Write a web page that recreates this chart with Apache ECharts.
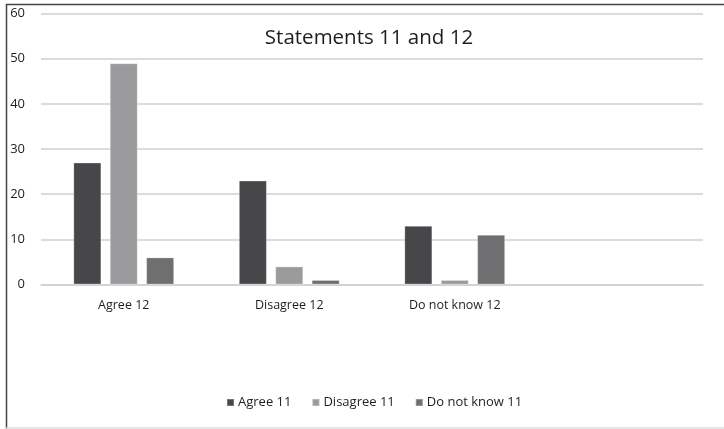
<!DOCTYPE html>
<html>
<head>
<meta charset="utf-8">
<script src="https://cdn.jsdelivr.net/npm/echarts@6/dist/echarts.min.js"></script>
<style>
  html, body { margin: 0; padding: 0; background: #fff; }
  #chart { width: 724px; height: 429px; }
</style>
</head>
<body>
<div id="chart"></div>
<script>
// Response categories (statement 12) and the statement 11 breakdown
const categories = ['Agree 12', 'Disagree 12', 'Do not know 12', ''];
const agree11 = [27, 23, 13, null];
const disagree11 = [49, 4, 1, null];
const dontKnow11 = [6, 1, 11, null];
const yTicks = { min: 0, max: 60, interval: 10 };

const FONT = '"Open Sans", "Noto Sans", sans-serif';

const chart = echarts.init(document.getElementById('chart'), null, { renderer: 'canvas' });

function barSeries(name, data, color) {
  return {
    name: name,
    type: 'bar',
    data: data,
    barWidth: 28,
    barGap: '30%',
    itemStyle: { color: color, borderColor: 'rgba(255,255,255,0.25)', borderWidth: 1 }
  };
}

chart.setOption({
  animation: false,
  backgroundColor: '#fff',
  title: {
    text: 'Statements 11 and 12',
    left: 364,
    top: 23,
    textAlign: 'center',
    textStyle: { fontFamily: FONT, fontSize: 20.5, fontWeight: 'normal', color: '#1e1e1e' }
  },
  legend: {
    bottom: 15,
    left: 221,
    itemWidth: 7,
    itemHeight: 7,
    itemGap: 20,
    icon: 'rect',
    textStyle: { fontFamily: FONT, fontSize: 13, color: '#1e1e1e', padding: [0, 0, 0, -1] },
    data: ['Agree 11', 'Disagree 11', 'Do not know 11']
  },
  grid: { left: 41, right: 21, top: 13.5, bottom: 144.5, containLabel: false },
  xAxis: {
    type: 'category',
    data: categories,
    axisLine: { show: true, lineStyle: { color: '#d0d0d0', width: 1.5 } },
    axisTick: { show: false },
    axisLabel: { fontFamily: FONT, fontSize: 12.5, color: '#1e1e1e', margin: 14 }
  },
  yAxis: {
    type: 'value',
    min: yTicks.min,
    max: yTicks.max,
    interval: yTicks.interval,
    axisLine: { show: false },
    axisTick: { show: false },
    axisLabel: { fontFamily: FONT, fontSize: 13, color: '#1e1e1e', margin: 16 },
    splitLine: { lineStyle: { color: '#d0d0d0', width: 1.5 } }
  },
  series: [
    barSeries('Agree 11', agree11, '#47474a'),
    barSeries('Disagree 11', disagree11, '#9b9b9d'),
    barSeries('Do not know 11', dontKnow11, '#6f6f71')
  ],
  graphic: [
    { type: 'line', shape: { x1: 6, y1: 4.5, x2: 724, y2: 4.5 }, style: { stroke: '#444', lineWidth: 1.5 } },
    { type: 'line', shape: { x1: 6.5, y1: 4, x2: 6.5, y2: 429 }, style: { stroke: '#444', lineWidth: 1.5 } },
    { type: 'line', shape: { x1: 6, y1: 428, x2: 724, y2: 428 }, style: { stroke: '#dcdcdc', lineWidth: 1.5 } }
  ]
});
</script>
</body>
</html>
